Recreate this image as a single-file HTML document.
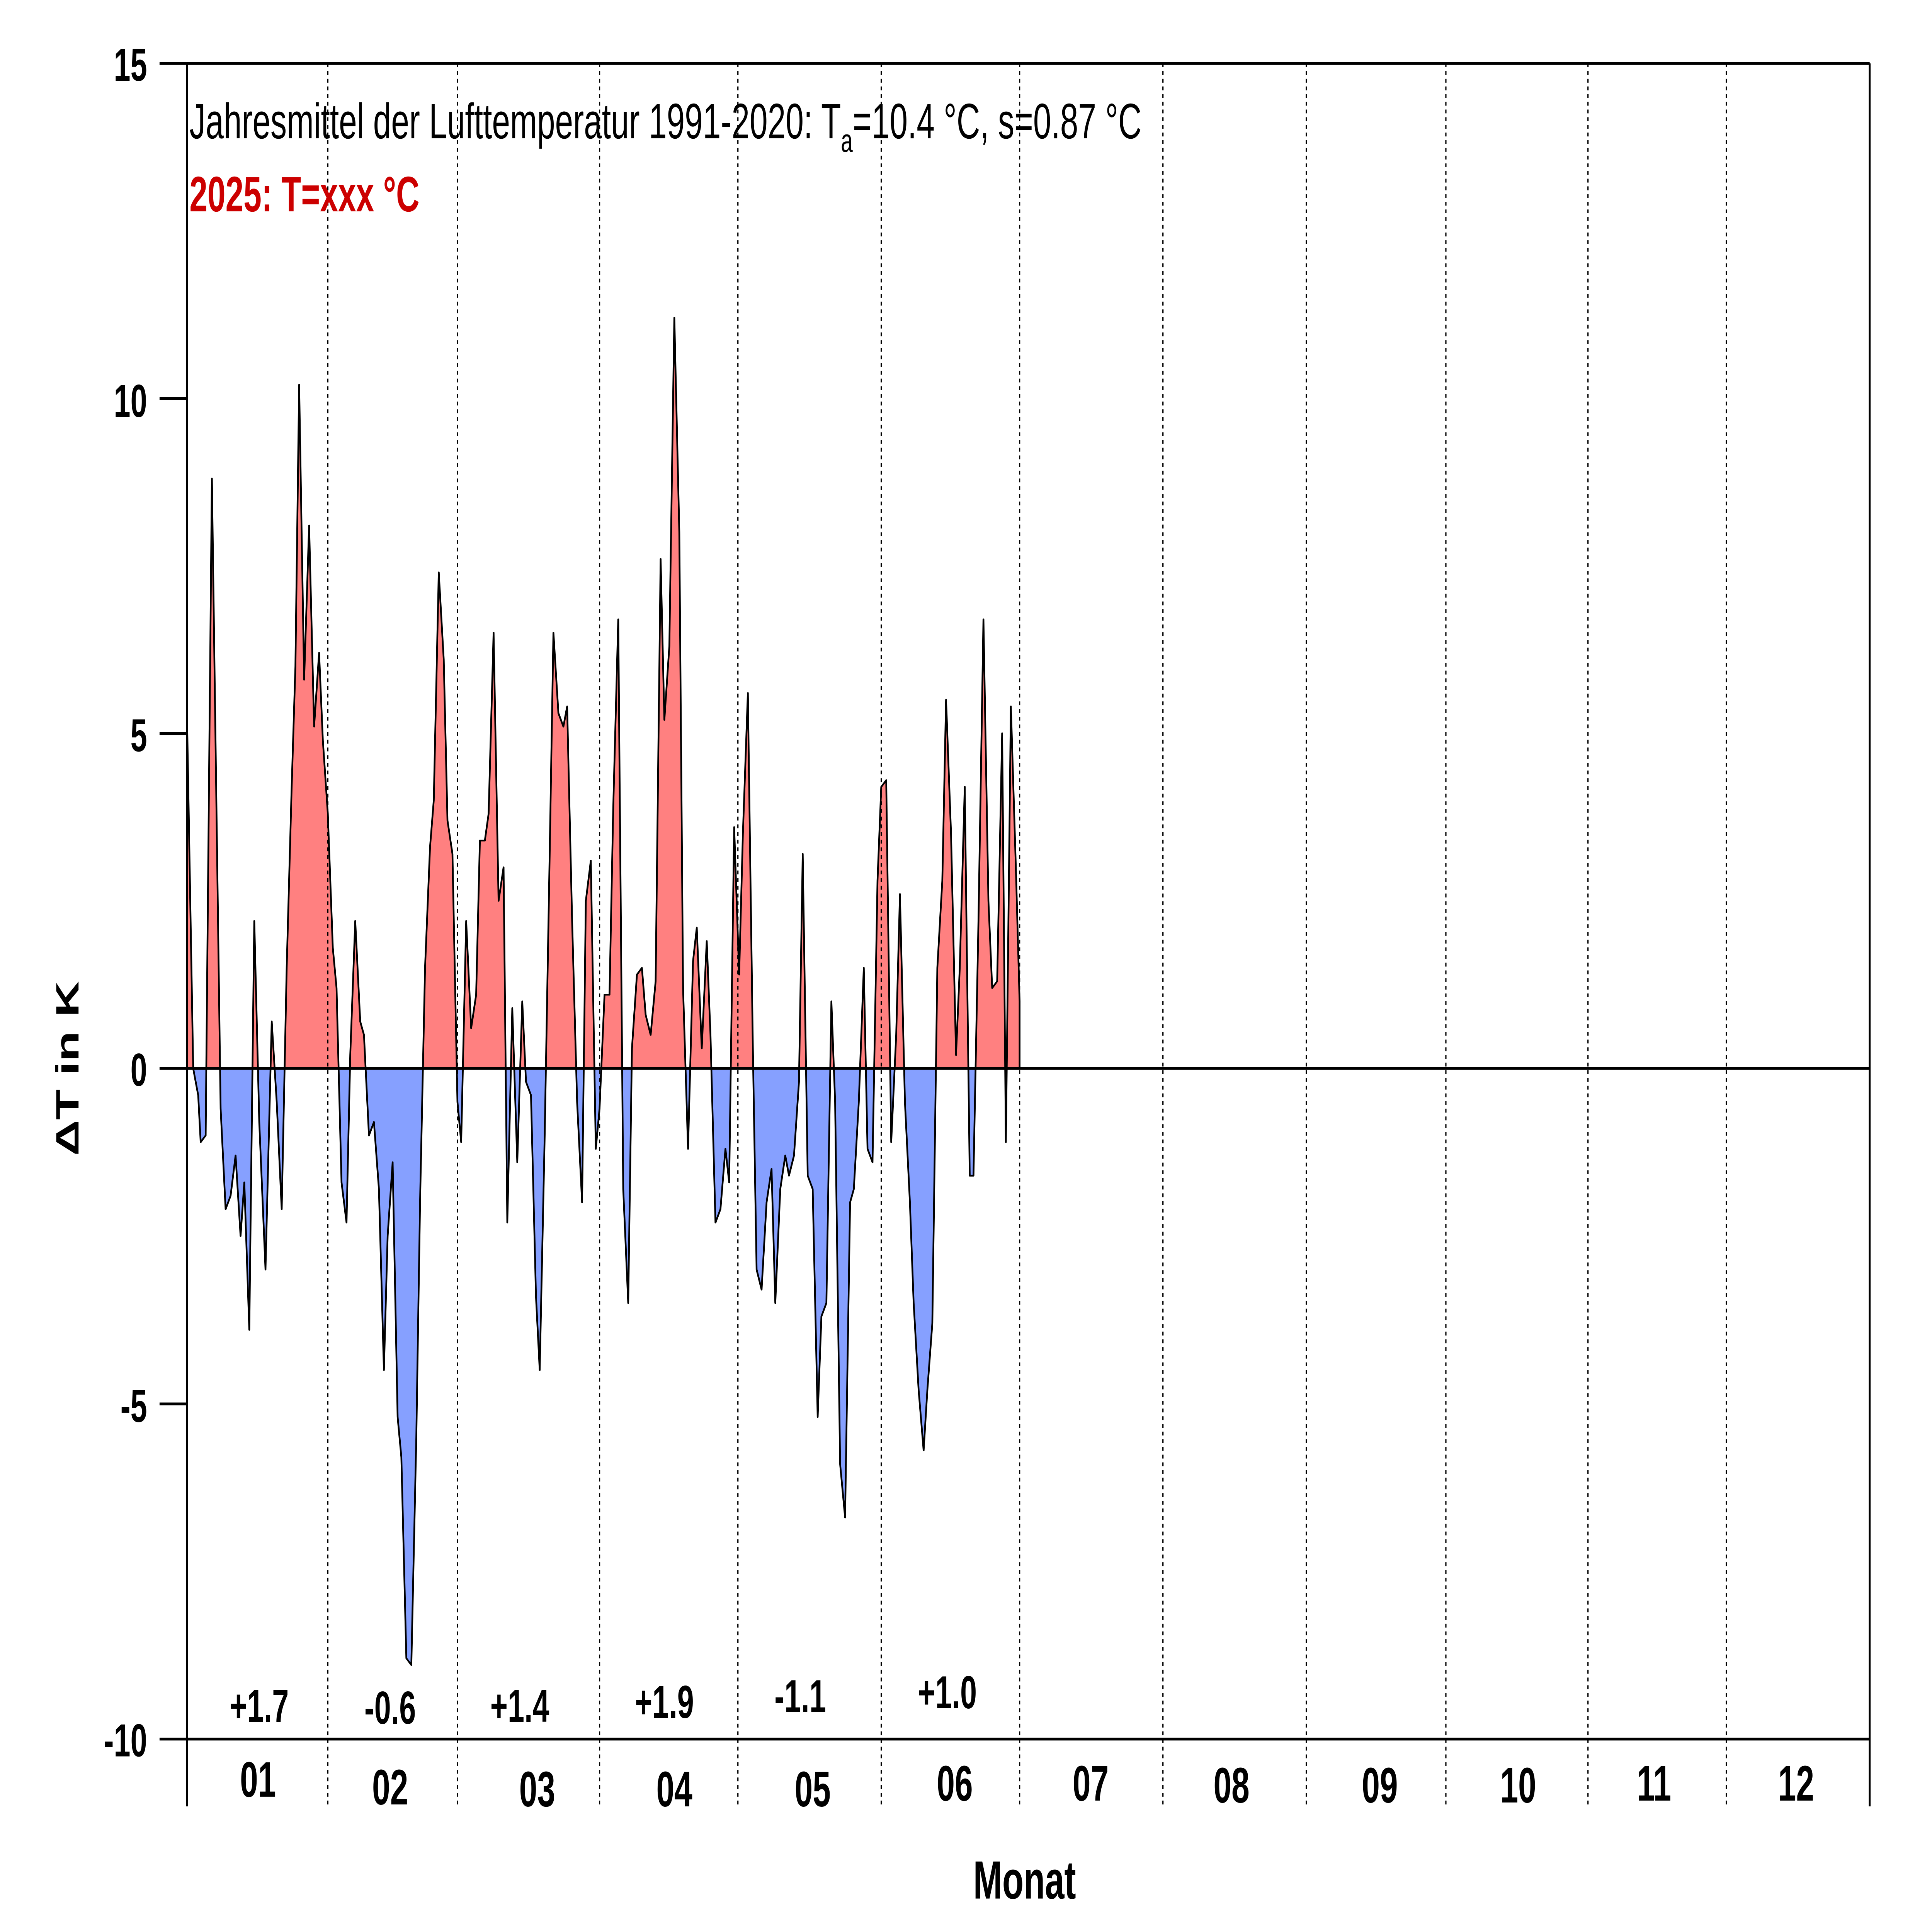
<!DOCTYPE html>
<html><head><meta charset="utf-8"><style>html,body{margin:0;padding:0;background:#fff;overflow:hidden;width:100vw;height:100vh}svg{display:block;width:100vw;height:100vh}</style></head>
<body>
<svg xmlns="http://www.w3.org/2000/svg" xmlns:xlink="http://www.w3.org/1999/xlink" viewBox="0 0 1550 1005.4" preserveAspectRatio="none" font-family="Liberation Sans, sans-serif">
<defs>
<clipPath id="up"><rect x="150" y="0" width="1400" height="556"/></clipPath>
<clipPath id="dn"><rect x="150" y="556" width="1400" height="500"/></clipPath>
<polygon id="p" points="150,0 150,5.3 155,0 159,-0.4 161,-1.1 165,-1.0 170,8.8 177,-0.6 181,-2.1 185,-1.9 189,-1.3 193,-2.5 196,-1.7 200,-3.9 204,2.2 208,-0.8 213,-3.0 218,0.7 222,-0.5 226,-2.1 230,1.5 234,4.2 237,6.0 240,10.2 244,5.8 248,8.1 252,5.1 256,6.2 259,4.9 263,3.8 267,1.8 270,1.2 274,-1.7 278,-2.3 281,0.2 285,2.2 289,0.7 292,0.5 296,-1.0 300,-0.8 304,-1.8 308,-4.5 311,-2.5 315,-1.4 319,-5.2 322,-5.8 326,-8.8 330,-8.9 334,-5.5 337,-2.0 341,1.5 345,3.3 348,4.0 352,7.4 356,6.1 359,3.7 363,3.2 367,-0.5 370,-1.1 374,2.2 378,0.6 382,1.1 385,3.4 389,3.4 392,3.8 396,6.5 400,2.5 404,3.0 407,-2.3 411,0.9 415,-1.4 419,1.0 422,-0.2 426,-0.4 430,-3.4 433,-4.5 437,-1.0 441,3.2 444,6.5 448,5.3 452,5.1 455,5.4 459,2.2 463,-0.5 467,-2.0 470,2.5 474,3.1 478,-1.2 481,-0.6 485,1.1 489,1.1 492,3.9 496,6.7 500,-1.8 504,-3.5 507,0.3 511,1.4 515,1.5 518,0.8 522,0.5 526,1.3 530,7.6 533,5.2 537,6.3 541,11.2 545,8.0 548,1.2 552,-1.2 556,1.6 559,2.1 563,0.3 567,1.9 570,0.5 574,-2.3 578,-2.1 582,-1.2 585,-1.7 589,3.6 593,1.4 596,3.5 600,5.6 604,0.3 607,-3.0 611,-3.3 615,-2.0 619,-1.5 622,-3.5 626,-1.8 630,-1.3 633,-1.6 637,-1.3 641,-0.2 644,3.2 648,-1.6 652,-1.8 656,-5.2 659,-3.7 663,-3.5 667,1.0 670,-0.5 674,-5.9 678,-6.7 682,-2.0 685,-1.8 689,-0.5 693,1.5 696,-1.2 700,-1.4 704,2.8 707,4.2 711,4.3 715,-1.1 719,0.5 722,2.6 726,-0.5 730,-2.0 733,-3.5 737,-4.8 741,-5.7 744,-4.8 748,-3.8 752,1.5 756,2.8 759,5.5 763,3.5 767,0.2 770,1.5 774,4.2 778,-1.6 781,-1.6 785,2.2 789,6.7 793,2.5 796,1.2 800,1.3 804,5.0 807,-1.1 811,5.4 815,3.0 818,1.0 818,0"/>
</defs>
<rect width="1550" height="1006" fill="#fff"/>
<g clip-path="url(#up)"><g transform="translate(0,556) scale(1,-34.88)">
<use xlink:href="#p" href="#p" fill="#ff8080" stroke="none"/>
</g></g>
<g clip-path="url(#dn)"><g transform="translate(0,556) scale(1,-34.88)">
<use xlink:href="#p" href="#p" fill="#86a0ff" stroke="none"/>
</g></g>
<g transform="translate(0,556) scale(1,-34.88)">
<polyline fill="none" stroke="#000" stroke-width="4.5" vector-effect="non-scaling-stroke" stroke-linejoin="round" points="150,5.3 155,0 159,-0.4 161,-1.1 165,-1.0 170,8.8 177,-0.6 181,-2.1 185,-1.9 189,-1.3 193,-2.5 196,-1.7 200,-3.9 204,2.2 208,-0.8 213,-3.0 218,0.7 222,-0.5 226,-2.1 230,1.5 234,4.2 237,6.0 240,10.2 244,5.8 248,8.1 252,5.1 256,6.2 259,4.9 263,3.8 267,1.8 270,1.2 274,-1.7 278,-2.3 281,0.2 285,2.2 289,0.7 292,0.5 296,-1.0 300,-0.8 304,-1.8 308,-4.5 311,-2.5 315,-1.4 319,-5.2 322,-5.8 326,-8.8 330,-8.9 334,-5.5 337,-2.0 341,1.5 345,3.3 348,4.0 352,7.4 356,6.1 359,3.7 363,3.2 367,-0.5 370,-1.1 374,2.2 378,0.6 382,1.1 385,3.4 389,3.4 392,3.8 396,6.5 400,2.5 404,3.0 407,-2.3 411,0.9 415,-1.4 419,1.0 422,-0.2 426,-0.4 430,-3.4 433,-4.5 437,-1.0 441,3.2 444,6.5 448,5.3 452,5.1 455,5.4 459,2.2 463,-0.5 467,-2.0 470,2.5 474,3.1 478,-1.2 481,-0.6 485,1.1 489,1.1 492,3.9 496,6.7 500,-1.8 504,-3.5 507,0.3 511,1.4 515,1.5 518,0.8 522,0.5 526,1.3 530,7.6 533,5.2 537,6.3 541,11.2 545,8.0 548,1.2 552,-1.2 556,1.6 559,2.1 563,0.3 567,1.9 570,0.5 574,-2.3 578,-2.1 582,-1.2 585,-1.7 589,3.6 593,1.4 596,3.5 600,5.6 604,0.3 607,-3.0 611,-3.3 615,-2.0 619,-1.5 622,-3.5 626,-1.8 630,-1.3 633,-1.6 637,-1.3 641,-0.2 644,3.2 648,-1.6 652,-1.8 656,-5.2 659,-3.7 663,-3.5 667,1.0 670,-0.5 674,-5.9 678,-6.7 682,-2.0 685,-1.8 689,-0.5 693,1.5 696,-1.2 700,-1.4 704,2.8 707,4.2 711,4.3 715,-1.1 719,0.5 722,2.6 726,-0.5 730,-2.0 733,-3.5 737,-4.8 741,-5.7 744,-4.8 748,-3.8 752,1.5 756,2.8 759,5.5 763,3.5 767,0.2 770,1.5 774,4.2 778,-1.6 781,-1.6 785,2.2 789,6.7 793,2.5 796,1.2 800,1.3 804,5.0 807,-1.1 811,5.4 815,3.0 818,1.0 818,0"/>
</g>
<line x1="150" y1="556" x2="1500" y2="556" stroke="#000" stroke-width="1.5"/>
<g stroke="#000" stroke-width="1" stroke-dasharray="2,2">
<line x1="263" y1="33" x2="263" y2="940"/><line x1="367" y1="33" x2="367" y2="940"/><line x1="481" y1="33" x2="481" y2="940"/><line x1="592" y1="33" x2="592" y2="940"/><line x1="707" y1="33" x2="707" y2="940"/><line x1="818" y1="33" x2="818" y2="940"/><line x1="933" y1="33" x2="933" y2="940"/><line x1="1048" y1="33" x2="1048" y2="940"/><line x1="1160" y1="33" x2="1160" y2="940"/><line x1="1274" y1="33" x2="1274" y2="940"/><line x1="1385" y1="33" x2="1385" y2="940"/>
</g>
<g stroke="#000" stroke-width="1.5" fill="none">
<line x1="150" y1="33" x2="1500" y2="33"/>
<line x1="150" y1="33" x2="150" y2="940"/>
<line x1="1500" y1="33" x2="1500" y2="940"/>
<line x1="150" y1="905" x2="1500" y2="905"/>
<line x1="128" y1="33" x2="150" y2="33"/><line x1="128" y1="207.4" x2="150" y2="207.4"/><line x1="128" y1="381.8" x2="150" y2="381.8"/><line x1="128" y1="556" x2="150" y2="556"/><line x1="128" y1="730.6" x2="150" y2="730.6"/><line x1="128" y1="905" x2="150" y2="905"/>
</g>
<g font-size="24" font-weight="bold" text-anchor="end">
<text x="118" y="42">15</text><text x="118" y="217">10</text><text x="118" y="391">5</text><text x="118" y="565">0</text><text x="118" y="740">-5</text><text x="118" y="914">-10</text>
</g>
<text transform="translate(63,556) rotate(-90)" font-size="26" font-weight="bold" text-anchor="middle">ΔT in K</text>
<text x="152" y="72" font-size="26">Jahresmittel der Lufttemperatur 1991-2020: T<tspan font-size="17" dy="7">a</tspan><tspan dy="-7">=10.4 °C, s=0.87 °C</tspan></text>
<text x="152" y="110" font-size="26" font-weight="bold" fill="#cc0000">2025: T=xxx °C</text>
<g font-size="24" font-weight="bold" text-anchor="middle">
<text x="208" y="896">+1.7</text><text x="313" y="897">-0.6</text><text x="417" y="896">+1.4</text><text x="533" y="894">+1.9</text><text x="642" y="891">-1.1</text><text x="760" y="889">+1.0</text>
</g>
<g font-size="26" font-weight="bold" text-anchor="middle">
<text x="207" y="935">01</text><text x="313" y="939">02</text><text x="431" y="940">03</text><text x="541" y="940">04</text><text x="652" y="940">05</text><text x="766" y="937">06</text><text x="875" y="937">07</text><text x="988" y="938">08</text><text x="1107" y="938">09</text><text x="1218" y="938">10</text><text x="1327" y="937">11</text><text x="1441" y="937">12</text>
<text x="822" y="988" font-size="28">Monat</text>
</g>
</svg>
</body></html>
